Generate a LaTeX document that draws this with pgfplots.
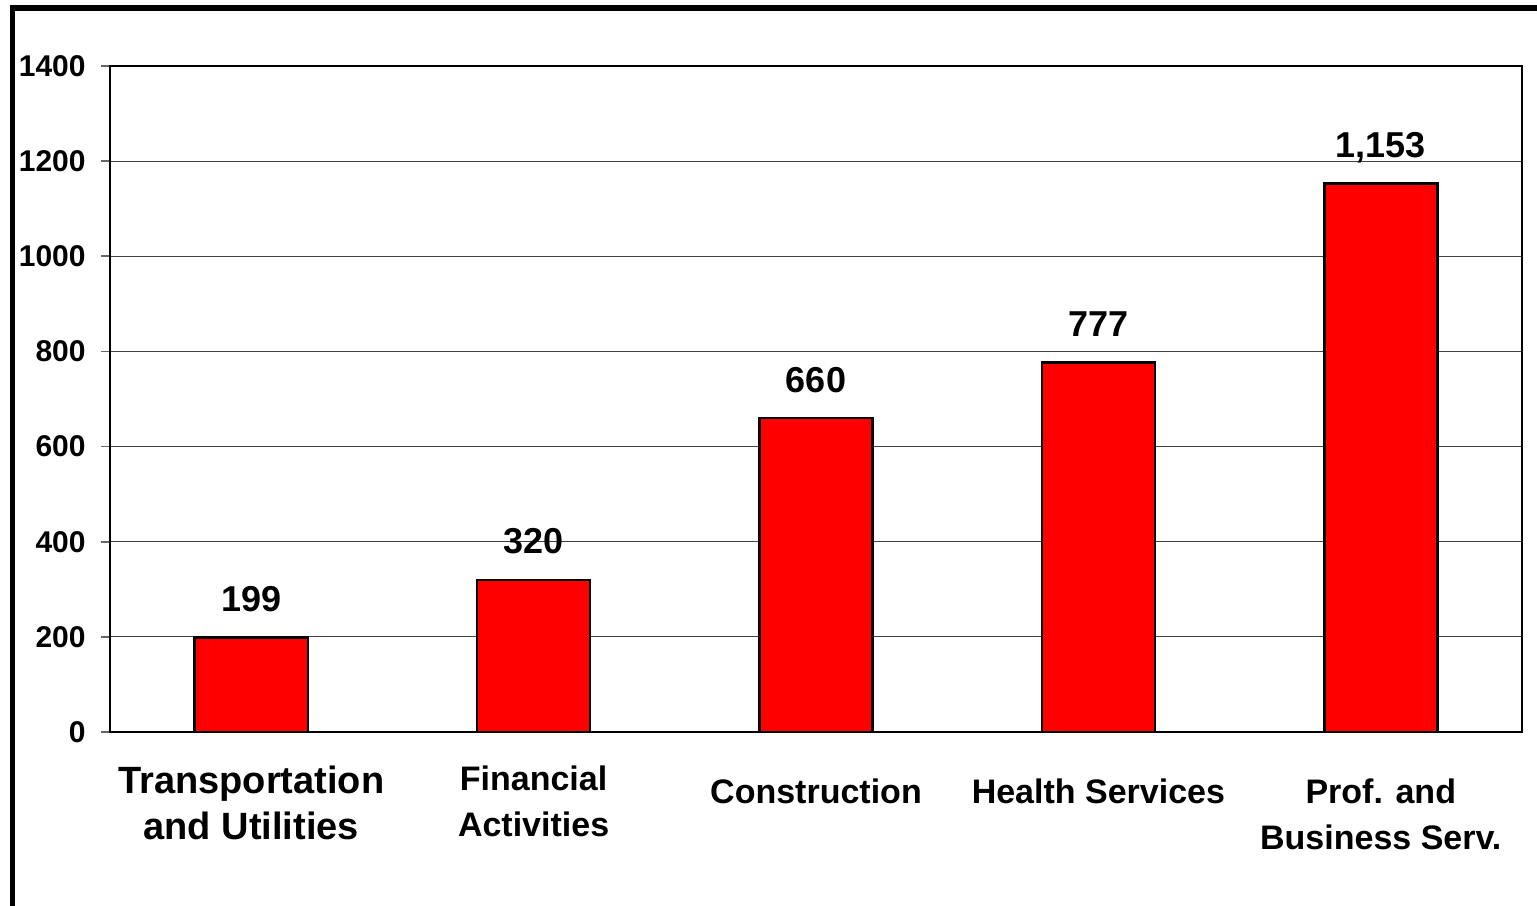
\documentclass[border=0pt]{standalone}
\usepackage{fontspec}
\setmainfont{Liberation Sans}
\usepackage{pgfplots}
\pgfplotsset{compat=1.18}
\begin{document}
\begin{tikzpicture}
\useasboundingbox (-55bp,-87bp) rectangle (713.5bp,366bp);
\draw[line width=2.6bp, line cap=rect] (-48.75bp,-120bp) -- (-48.75bp,362bp) -- (760bp,362bp);
\begin{axis}[
  at={(0,0)}, anchor=south west, scale only axis,
  width=706bp, height=333bp,
  ybar, bar width=56.5bp,
  xmin=-0.5, xmax=4.5, ymin=0, ymax=1400,
  ytick={0,200,...,1400},
  xtick={0,1,2,3,4},
  xticklabels={
    {\fontsize{19bp}{23.5bp}\selectfont\rule{0pt}{26bp}Transportation\\\fontsize{19bp}{23.5bp}\selectfont and Utilities},
    {\rule{0pt}{24.5bp}Financial\\Activities},
    {\rule{0pt}{31bp}Construction},
    {\rule{0pt}{31bp}Health Services},
    {\rule{0pt}{31bp}Prof. and\\Business Serv.}
  },
  xticklabel style={font=\fontsize{17bp}{23bp}\selectfont\bfseries, align=center, anchor=north, inner sep=0pt},
  yticklabel style={font=\fontsize{15bp}{18bp}\selectfont\bfseries, anchor=east, inner sep=0pt, xshift=-7.5bp},
  /pgf/number format/assume math mode=true,
  /pgf/number format/1000 sep={},
  xtick style={draw=none},
  ytick pos=left,
  tick align=outside,
  major tick length=4.5bp,
  ytick style={draw=black!60, line width=0.8bp},
  ymajorgrids,
  major grid style={black!75, line width=0.6bp},
  axis line style={black, line width=1.1bp},
  nodes near coords={\pgfmathprintnumber[assume math mode=true,1000 sep={,}]{\pgfplotspointmeta}},
  every node near coord/.style={font=\fontsize{18bp}{21bp}\selectfont\bfseries, anchor=base, inner sep=0pt, yshift=13bp},
]
\addplot[fill=red, draw=black, line width=1.2bp] coordinates {(0,199) (1,320) (2,660) (3,777) (4,1153)};
\end{axis}
\end{tikzpicture}
\end{document}
